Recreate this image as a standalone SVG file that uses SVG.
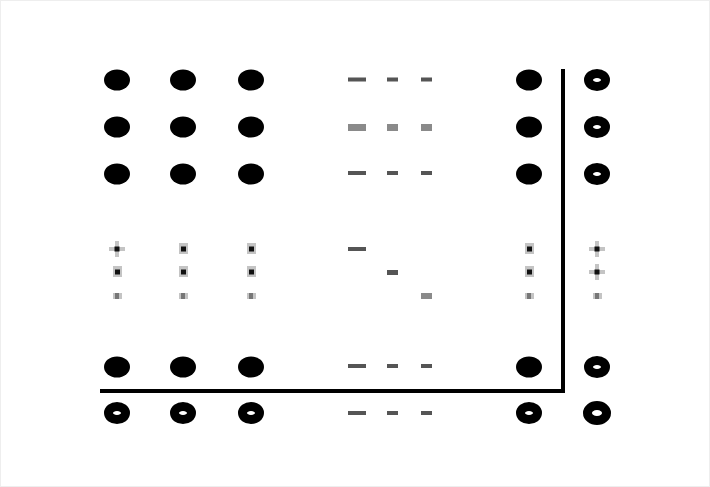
<svg xmlns="http://www.w3.org/2000/svg" width="710" height="487" viewBox="0 0 710 487">
<style>
.dot{fill:#000}
.ring{fill:none;stroke:#000;stroke-width:9}
.dash{fill:#555}
.dashl{fill:#8a8a8a}
.pc{fill:#111}
.pa{fill:#c4c4c4}
.pd{fill:#777}
.line{stroke:#000;stroke-width:4;fill:none}
</style>
<defs>
<ellipse id="d" class="dot" rx="13" ry="10.5"/>
<ellipse id="r" class="ring" rx="8.5" ry="6.5"/>
<g id="plus"><rect class="pa" x="-8" y="-2" width="16" height="4"/><rect class="pa" x="-2" y="-8" width="4" height="16"/><rect class="pc" x="-2.5" y="-2.5" width="5" height="5"/></g>
<g id="plus2"><rect class="pa" x="-4" y="-6" width="9" height="11"/><rect class="pc" x="-2" y="-2.5" width="5" height="5"/></g>
<g id="sq"><rect class="pa" x="-4" y="-3" width="9" height="6"/><rect class="pd" x="-2" y="-3" width="4" height="6"/></g>
</defs>
<rect x="0.5" y="0.5" width="709" height="486" fill="#fff" stroke="#eee" stroke-width="1"/>
<g id="rows-top">
<use href="#d" x="117" y="80"/><use href="#d" x="183" y="80"/><use href="#d" x="251" y="80"/>
<use href="#d" x="117" y="127"/><use href="#d" x="183" y="127"/><use href="#d" x="251" y="127"/>
<use href="#d" x="117" y="174"/><use href="#d" x="183" y="174"/><use href="#d" x="251" y="174"/>
<use href="#d" x="529" y="80"/><use href="#d" x="529" y="127"/><use href="#d" x="529" y="174"/>
<use href="#r" x="597" y="80"/><use href="#r" x="597" y="127"/><use href="#r" x="597" y="174"/>
</g>
<g id="dashes">
<rect class="dash" x="348" y="77.5" width="18" height="4"/><rect class="dash" x="387" y="77.5" width="11" height="4"/><rect class="dash" x="421" y="77.5" width="11" height="4"/>
<rect class="dashl" x="348" y="124" width="18" height="7"/><rect class="dashl" x="387" y="124" width="11" height="7"/><rect class="dashl" x="421" y="124" width="11" height="7"/>
<rect class="dash" x="348" y="171" width="18" height="4"/><rect class="dash" x="387" y="171" width="11" height="4"/><rect class="dash" x="421" y="171" width="11" height="4"/>
<rect class="dash" x="348" y="247" width="18" height="4"/><rect class="dash" x="387" y="270" width="11" height="5"/><rect class="dashl" x="421" y="293" width="11" height="6"/>
<rect class="dash" x="348" y="364" width="18" height="4"/><rect class="dash" x="387" y="364" width="11" height="4"/><rect class="dash" x="421" y="364" width="11" height="4"/>
<rect class="dash" x="348" y="411" width="18" height="4"/><rect class="dash" x="387" y="411" width="11" height="4"/><rect class="dash" x="421" y="411" width="11" height="4"/>
</g>
<g id="small-marks">
<use href="#plus" x="117" y="249"/><use href="#plus2" x="183" y="249"/><use href="#plus2" x="251" y="249"/><use href="#plus2" x="529" y="249"/><use href="#plus" x="597" y="249"/>
<use href="#plus2" x="117" y="272"/><use href="#plus2" x="183" y="272"/><use href="#plus2" x="251" y="272"/><use href="#plus2" x="529" y="272"/><use href="#plus" x="597" y="272"/>
<use href="#sq" x="117" y="296"/><use href="#sq" x="183" y="296"/><use href="#sq" x="251" y="296"/><use href="#sq" x="529" y="296"/><use href="#sq" x="597" y="296"/>
</g>
<g id="rows-bottom">
<use href="#d" x="117" y="367"/><use href="#d" x="183" y="367"/><use href="#d" x="251" y="367"/><use href="#d" x="529" y="367"/>
<use href="#r" x="597" y="367"/>
<use href="#r" x="117" y="413"/><use href="#r" x="183" y="413"/><use href="#r" x="251" y="413"/><use href="#r" x="529" y="413"/>
<ellipse class="ring" cx="597" cy="413" rx="9.5" ry="7.5" stroke-width="7"/>
</g>
<g id="connectors">
<path class="line" d="M563 69 V391 H100"/>
</g>
</svg>
